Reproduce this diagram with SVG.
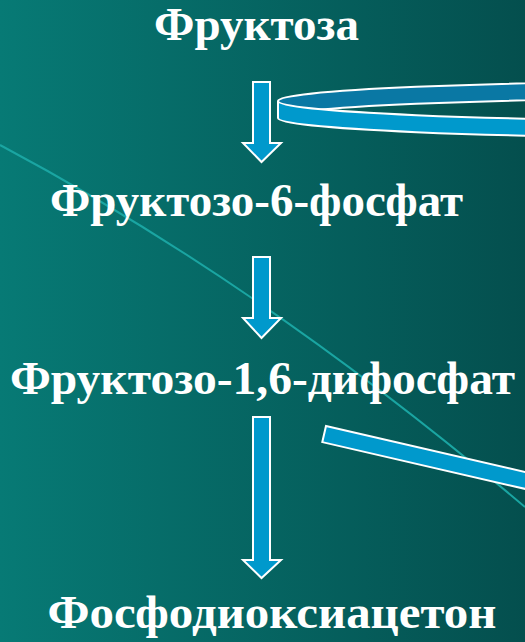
<svg xmlns="http://www.w3.org/2000/svg" width="525" height="642" viewBox="0 0 525 642">
<defs>
<linearGradient id="bg" x1="0" y1="0" x2="1" y2="0">
<stop offset="0" stop-color="#077a75"/>
<stop offset="1" stop-color="#044f4e"/>
</linearGradient>
<style>
.t{font-family:"Liberation Serif","Times New Roman",serif;font-weight:bold;font-size:46px;fill:#ffffff;text-anchor:middle}
.a{fill:#0099cc;stroke:#ffffff;stroke-width:2;stroke-linejoin:miter}
.back{fill:#0a78a4;stroke:#ffffff;stroke-width:2}
</style>
</defs>
<rect width="525" height="642" fill="url(#bg)"/>
<path d="M0,145 Q262.5,284.7 525,507" fill="none" stroke="#1aa5a2" stroke-width="2"/>
<g id="n1"><text class="t" x="256.5" y="40" textLength="205" lengthAdjust="spacingAndGlyphs">Фруктоза</text></g>
<g id="n2"><text class="t" x="256.5" y="216" textLength="413" lengthAdjust="spacingAndGlyphs">Фруктозо-6-фосфат</text></g>
<g id="n3"><text class="t" x="262.5" y="394" textLength="505" lengthAdjust="spacingAndGlyphs">Фруктозо-1,6-дифосфат</text></g>
<g id="n4"><text class="t" x="272" y="628" textLength="449" lengthAdjust="spacingAndGlyphs">Фосфодиоксиацетон</text></g>
<g id="connectors">
<path class="a" d="M253,82 H270 V143 H281 L261.5,162 L243,143 H253 Z"/>
<path class="a" d="M253,257 H270 V318 H281 L261.5,338 L243,318 H253 Z"/>
<path class="a" d="M253,417 H270 V560 H281 L261.5,578 L243,560 H253 Z"/>
<path class="back" d="M278,101 A472,20 0 0 1 1222,101 L1222,118 A472,20 0 0 0 278,118 Z"/>
<path class="a" d="M278,101 A472,20 0 0 0 1222,101 L1222,118 A472,20 0 0 1 278,118 Z"/>
<path class="a" d="M326,426 L560,480 L556.3,496.1 L322.3,442.1 Z"/>
</g>
</svg>
